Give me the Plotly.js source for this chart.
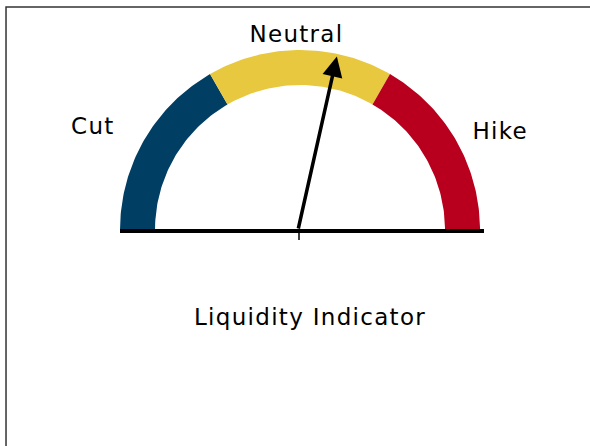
<!DOCTYPE html>
<html>
<head>
<meta charset="utf-8">
<script src="https://cdn.plot.ly/plotly-3.0.1.min.js"></script>
<style>html,body{margin:0;padding:0;background:#fff;}#chart{width:590px;height:446px;}
#chart .annotation-text, #chart .gtitle{letter-spacing:1.3px;}</style>
</head>
<body>
<div id="chart"></div>
<script>
// ---- data ----
const segmentNames = ['Cut', 'Neutral', 'Hike'];
const segmentStart = [0, 1, 2];      // gauge scale units
const segmentEnd = [1, 2, 3];
const gaugeMin = 0;
const gaugeMax = 3;
const needleValue = 1.7;
const chartTitle = 'Liquidity Indicator';

// ---- styles / layout ----
const segmentColors = ['#003E64', '#E8C83F', '#B8001E'];
const outerR = 1.0;
const innerR = 145 / 180;
const needleR = 0.985;
const labelPos = [[-1.15, 0.58], [-0.02, 1.09], [1.11, 0.55]];
const FONT = 'DejaVu Sans, sans-serif';
const FSIZE = 23;

function angleOf(v) { // degrees, 180 at min (left) to 0 at max (right)
  return 180 - (v - gaugeMin) / (gaugeMax - gaugeMin) * 180;
}

const traces = segmentNames.map((name, i) => {
  const a0 = angleOf(segmentStart[i]), a1 = angleOf(segmentEnd[i]);
  const xs = [], ys = [];
  const n = 60;
  for (let k = 0; k <= n; k++) {
    const a = (a0 + (a1 - a0) * k / n) * Math.PI / 180;
    xs.push(outerR * Math.cos(a)); ys.push(outerR * Math.sin(a));
  }
  for (let k = n; k >= 0; k--) {
    const a = (a0 + (a1 - a0) * k / n) * Math.PI / 180;
    xs.push(innerR * Math.cos(a)); ys.push(innerR * Math.sin(a));
  }
  return {
    type: 'scatter', mode: 'lines', x: xs, y: ys, fill: 'toself',
    fillcolor: segmentColors[i], line: {width: 0, color: segmentColors[i]},
    name: name, hoverinfo: 'name', showlegend: false
  };
});

// base line and centre tick
traces.push({
  type: 'scatter', mode: 'lines', x: [-outerR, 184 / 180], y: [-1 / 180, -1 / 180],
  line: {color: '#000', width: 4}, hoverinfo: 'skip', showlegend: false
});
traces.push({
  type: 'scatter', mode: 'lines', x: [-1 / 180, -1 / 180], y: [1 / 180, -10 / 180],
  line: {color: '#000', width: 1.5}, hoverinfo: 'skip', showlegend: false
});

const na = angleOf(needleValue) * Math.PI / 180;
const annotations = [{
  x: needleR * Math.cos(na), y: needleR * Math.sin(na), xref: 'x', yref: 'y',
  ax: -2 / 180, ay: 0, axref: 'x', ayref: 'y', text: '', showarrow: true,
  arrowhead: 2, arrowsize: 1.15, arrowwidth: 3.5, arrowcolor: '#000', standoff: 0
}];
segmentNames.forEach((name, i) => {
  annotations.push({
    x: labelPos[i][0], y: labelPos[i][1], xref: 'x', yref: 'y', text: name,
    showarrow: false, xanchor: 'center', yanchor: 'middle',
    font: {family: FONT, size: FSIZE, color: '#000'}
  });
});

const layout = {
  width: 590, height: 446,
  margin: {l: 0, r: 0, t: 0, b: 0},
  paper_bgcolor: '#fff', plot_bgcolor: '#fff',
  showlegend: false,
  title: {text: chartTitle, x: 310 / 590, xanchor: 'center', y: 1 - 317 / 446, yanchor: 'middle',
          font: {family: FONT, size: FSIZE, color: '#000'}},
  xaxis: {range: [-300 / 180, 290 / 180], visible: false, fixedrange: true},
  yaxis: {range: [-216 / 180, 230 / 180], visible: false, fixedrange: true},
  annotations: annotations,
  shapes: [{
    type: 'path', xref: 'paper', yref: 'paper',
    path: 'M 0.0102,0 L 0.0102,0.9843 L 1,0.9843',
    line: {color: '#333', width: 1.5}
  }]
};

Plotly.newPlot('chart', traces, layout, {displayModeBar: false, staticPlot: true});
</script>
</body>
</html>
